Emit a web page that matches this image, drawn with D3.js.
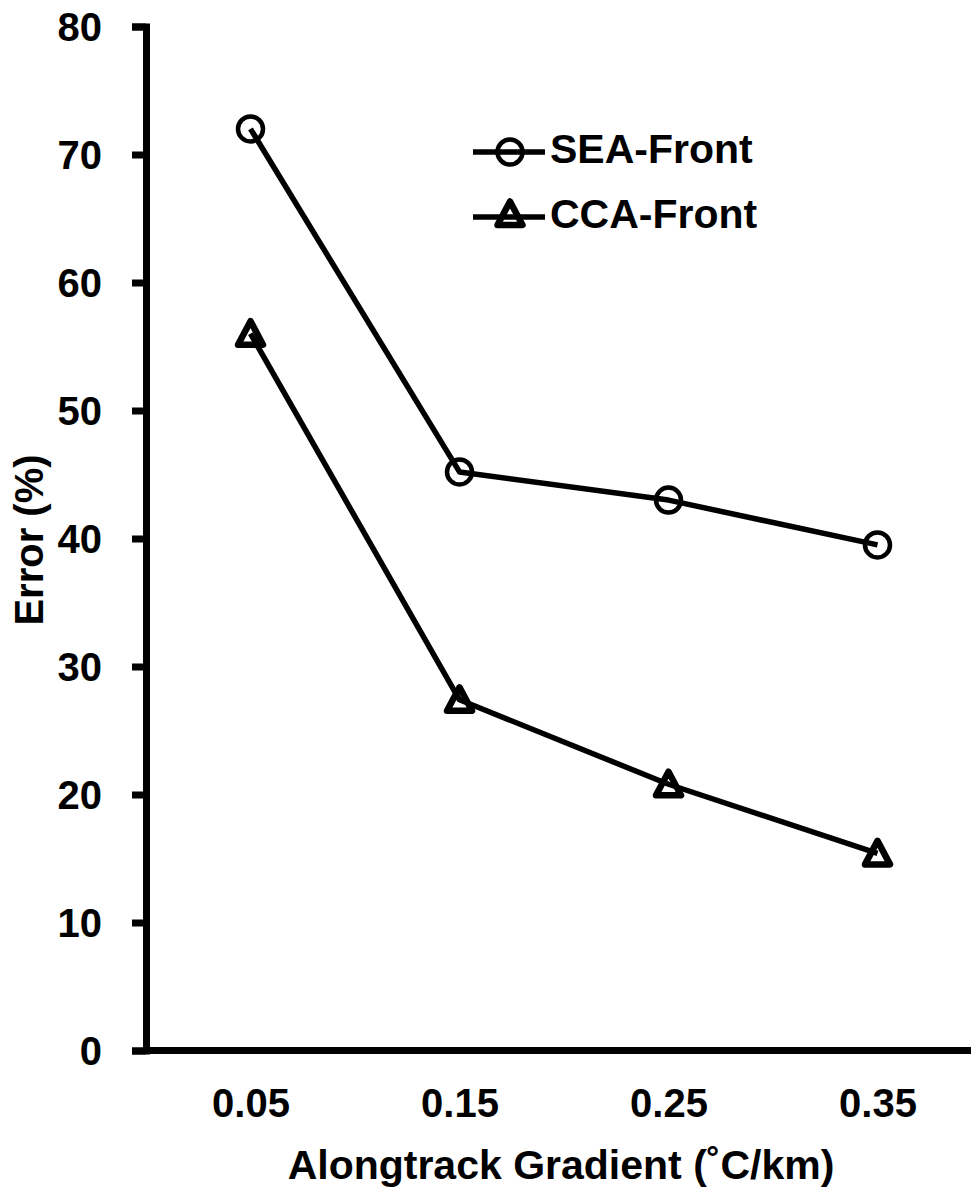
<!DOCTYPE html>
<html><head><meta charset="utf-8">
<script src="https://cdn.jsdelivr.net/npm/d3@7"></script>
<style>
html,body{margin:0;padding:0;background:#fff;}
svg{display:block;font-family:"Liberation Sans",Arial,sans-serif;font-weight:bold;}
</style></head>
<body>
<script>
const categories = ["0.05", "0.15", "0.25", "0.35"];
const seaFront = [72, 45.2, 43.0, 39.5];
const ccaFront = [56, 27.4, 20.8, 15.4];
const yTicks = [0, 10, 20, 30, 40, 50, 60, 70, 80];
const seriesNames = ["SEA-Front", "CCA-Front"];

const W = 971, H = 1189;
const svg = d3.select("body").append("svg").attr("width", W).attr("height", H);

const x = d3.scalePoint().domain(categories).range([146, 982]).padding(0.5);
const y = d3.scaleLinear().domain([0, 80]).range([1050.5, 26.5]);

// Y axis
const yAxis = svg.append("g").attr("transform", "translate(146,0)")
  .call(d3.axisLeft(y).tickValues(yTicks).tickSize(14).tickSizeOuter(14).tickPadding(30).tickFormat(d3.format("d")));
yAxis.selectAll("path,line").attr("stroke", "#000").attr("stroke-width", 7);
yAxis.selectAll("text").attr("font-size", 40).attr("fill", "#000").attr("font-weight", "bold").attr("dy", "0.36em");

// X axis
const xAxis = svg.append("g").attr("transform", "translate(0,1050.5)")
  .call(d3.axisBottom(x).tickSize(0).tickSizeOuter(0).tickPadding(38));
xAxis.select(".domain").attr("d", `M${x.range()[0]},0H${x.range()[1]}`).attr("stroke", "#000").attr("stroke-width", 7);
xAxis.selectAll("text").attr("font-size", 40).attr("fill", "#000").attr("font-weight", "bold").attr("dy", "0.71em");

// Axis titles
svg.append("text").attr("x", 561).attr("y", 1179).attr("text-anchor", "middle")
  .attr("font-size", 41).text("Alongtrack Gradient (˚C/km)");
svg.append("text").attr("transform", "translate(43,540) rotate(-90)").attr("text-anchor", "middle")
  .attr("font-size", 40).text("Error (%)");

const line = d3.line().x((d, i) => x(categories[i])).y(d => y(d));
const triPath = "M0,-12.5L12.5,11L-12.5,11Z";

function drawSeries(vals, kind) {
  svg.append("path").datum(vals).attr("d", line).attr("fill", "none")
    .attr("stroke", "#000").attr("stroke-width", 5.5).attr("stroke-linejoin", "round");
  const g = svg.append("g");
  vals.forEach((v, i) => {
    if (kind === "circle") {
      g.append("circle").attr("cx", x(categories[i])).attr("cy", y(v)).attr("r", 12.5)
        .attr("fill", "none").attr("stroke", "#000").attr("stroke-width", 4.5);
    } else {
      g.append("path").attr("d", triPath).attr("transform", `translate(${x(categories[i])},${y(v)})`)
        .attr("fill", "none").attr("stroke", "#000").attr("stroke-width", 6.5).attr("stroke-linejoin", "round");
    }
  });
}
drawSeries(seaFront, "circle");
drawSeries(ccaFront, "tri");

// Legend
const legend = [{name: seriesNames[0], kind: "circle", y: 152}, {name: seriesNames[1], kind: "tri", y: 217}];
legend.forEach(l => {
  svg.append("line").attr("x1", 473).attr("x2", 545).attr("y1", l.y).attr("y2", l.y)
    .attr("stroke", "#000").attr("stroke-width", 5.5);
  if (l.kind === "circle") {
    svg.append("circle").attr("cx", 510).attr("cy", l.y).attr("r", 12.5).attr("fill", "none")
      .attr("stroke", "#000").attr("stroke-width", 4.5);
  } else {
    svg.append("path").attr("d", triPath).attr("transform", `translate(510,${l.y - 3})`)
      .attr("fill", "none").attr("stroke", "#000").attr("stroke-width", 6.5).attr("stroke-linejoin", "round");
  }
  svg.append("text").attr("x", 550).attr("y", l.y + 11).attr("font-size", 41)
    .text(l.name);
});
</script>
</body></html>
